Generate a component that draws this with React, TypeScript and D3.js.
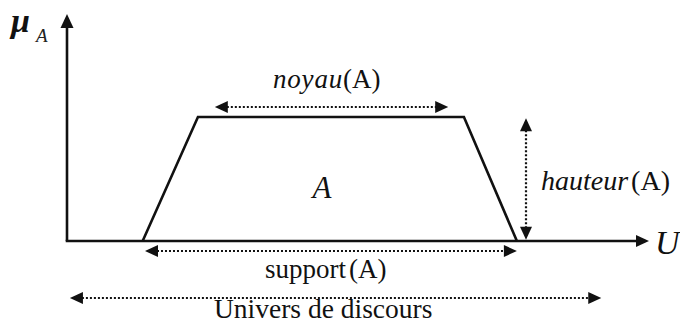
import React from "react";
import * as d3 from "d3";

// Universe of discourse (abstract units) and membership degree
const universeDomain = [0, 100];
const membershipDomain = [0, 1];
// Trapezoidal fuzzy set A: [a, b, c, d] with membership [0, 1, 1, 0]
const trapU = [13, 22.5, 68.2, 77.3];
const trapMu = [0, 1, 1, 0];
// Annotation spans
const noyauSpan = [25.4, 65.5];
const supportSpan = [13.4, 77.3];
const universSpan = [0.5, 91.8];
const hauteurSpan = [0.99, 0.01];
const axisTopMu = 1.83;
const labels = {
  noyau: "noyau",
  hauteur: "hauteur",
  support: "support",
  univers: "Univers de discours",
  set: "A",
  axisU: "U",
  mu: "μ",
};

const W = 680;
const H = 327;
const ink = "#111";

function head(x: number, y: number, dx: number, dy: number, len = 13, hw = 6) {
  const n = Math.hypot(dx, dy);
  const ux = dx / n, uy = dy / n;
  const bx = x - ux * len, by = y - uy * len;
  const px = -uy * hw, py = ux * hw;
  return `M${x},${y}L${bx + px},${by + py}L${bx - px},${by - py}Z`;
}

export default function App() {
  const x = d3.scaleLinear().domain(universeDomain).range([67, 649]);
  const y = d3.scaleLinear().domain(membershipDomain).range([241, 117]);

  const trapLine = d3
    .line<number>()
    .x((d) => x(d))
    .y((_, i) => y(trapMu[i]))(trapU) as string;

  const x0 = x(0), y0 = y(0);
  const yTop = y(axisTopMu);
  const xEnd = x(100);

  const dotted = { stroke: ink, strokeWidth: 2.2, strokeDasharray: "2 2", fill: "none" } as const;

  const hArrow = (span: number[], yy: number, key: string) => {
    const a = x(span[0]), b = x(span[1]);
    return (
      <g key={key}>
        <line x1={a + 12} x2={b - 12} y1={yy} y2={yy} {...dotted} />
        <path d={head(a, yy, -1, 0)} fill={ink} />
        <path d={head(b, yy, 1, 0)} fill={ink} />
      </g>
    );
  };

  const hx = 526;
  const hy1 = y(hauteurSpan[0]), hy2 = y(hauteurSpan[1]);

  return (
    <svg width={W} height={H} style={{ position: "absolute", left: 0, top: 0, background: "#fff" }}
      fontFamily="'Liberation Serif', 'Times New Roman', serif">
      {/* axes */}
      <line x1={x0} y1={y0} x2={x0} y2={yTop + 12} stroke={ink} strokeWidth={2.6} />
      <path d={head(x0, yTop, 0, -1, 14, 6.5)} fill={ink} />
      <line x1={x0 - 1.3} y1={y0} x2={xEnd - 12} y2={y0} stroke={ink} strokeWidth={2.6} />
      <path d={head(xEnd, y0, 1, 0, 13, 6)} fill={ink} />

      {/* trapezoid */}
      <path d={trapLine} fill="none" stroke={ink} strokeWidth={2.6} strokeLinejoin="miter" />

      {/* annotations */}
      {hArrow(noyauSpan, 107, "noyau")}
      {hArrow(supportSpan, 251, "support")}
      {hArrow(universSpan, 298, "univers")}
      <g>
        <line x1={hx} x2={hx} y1={hy1 + 12} y2={hy2 - 12} {...dotted} />
        <path d={head(hx, hy1, 0, -1)} fill={ink} />
        <path d={head(hx, hy2, 0, 1)} fill={ink} />
      </g>

      {/* texts */}
      <text x={11} y={32} fontSize={34} fontStyle="italic" fontWeight="bold" fill={ink}>{labels.mu}</text>
      <text x={36} y={42} fontSize={19} fontStyle="italic" fill="#222">A</text>

      <text x={273} y={88} fontSize={27} fill={ink}>
        <tspan fontStyle="italic" letterSpacing={0.8}>{labels.noyau}</tspan>
        <tspan>(A)</tspan>
      </text>

      <text x={322} y={198} fontSize={31} fontStyle="italic" textAnchor="middle" fill={ink}>{labels.set}</text>

      <text x={541} y={190} fontSize={28} fill={ink}>
        <tspan fontStyle="italic">{labels.hauteur}</tspan>
        <tspan dx={3}>(A)</tspan>
      </text>

      <text x={655} y={254} fontSize={34} fontStyle="italic" fill={ink}>{labels.axisU}</text>

      <text x={265} y={278} fontSize={27} fill={ink}>
        <tspan>{labels.support}</tspan>
        <tspan dx={3}>(A)</tspan>
      </text>

      <text x={214} y={318} fontSize={27.5} fill={ink}>{labels.univers}</text>
    </svg>
  );
}
